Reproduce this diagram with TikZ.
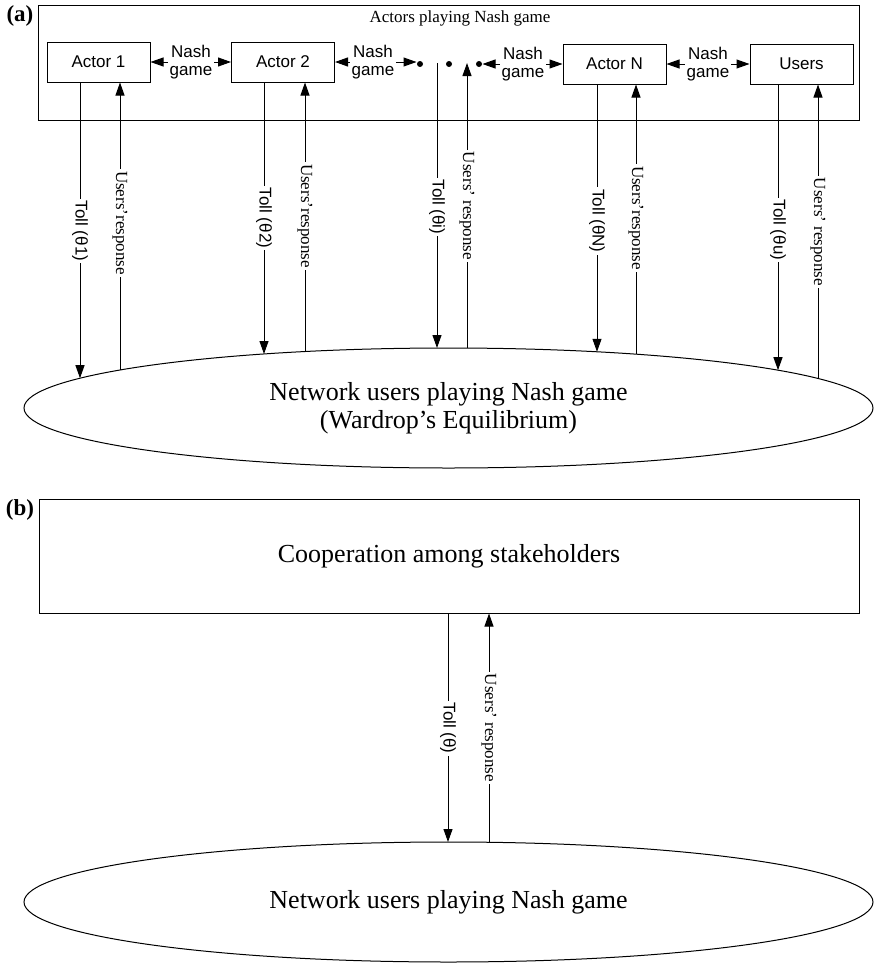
\documentclass[tikz,border=0pt]{standalone}
\usepackage{fontspec}
\setmainfont{Liberation Serif}
\setsansfont{Liberation Sans}
\usetikzlibrary{shapes.geometric,arrows.meta}

\begin{document}
\begin{tikzpicture}[x=1pt,y=-1pt,
  line width=1pt,
  arr/.style={-{Triangle[length=13pt,width=9pt]}},
  actorbox/.style={draw, minimum width=103pt, minimum height=40pt, inner sep=0pt,
    font=\sffamily\fontsize{17}{19}\selectfont},
  gamelbl/.style={align=center, inner sep=1.5pt,
    font=\sffamily\fontsize{17}{18.5}\selectfont},
  tolllbl/.style={rotate=-90, fill=white, inner xsep=2pt, inner ysep=0pt,
    font=\sffamily\fontsize{17}{19}\selectfont},
  resplbl/.style={rotate=-90, fill=white, inner xsep=2pt, inner ysep=0pt,
    font=\fontsize{17}{19}\selectfont},
  netwk/.style={draw, ellipse, minimum width=849pt, minimum height=120pt,
    inner sep=0pt, align=center, font=\fontsize{26}{28}\selectfont},
  dotmark/.style={circle, fill, inner sep=0pt, minimum size=6pt},
  panel/.style={inner sep=0pt, font=\bfseries\fontsize{23}{25}\selectfont}
]
\useasboundingbox (0,0) rectangle (873,964);

% ---------- (a) non-cooperative setting ----------
\node[panel] (pa) at (20,16) {(a)};
\node[draw, anchor=north west, minimum width=821pt, minimum height=115pt,
  inner sep=0pt] (actors) at (38,5) {};
\node[inner sep=0pt, font=\fontsize{17}{19}\selectfont] (title) at (460,18)
  {Actors playing Nash game};

\node[actorbox] (a1) at (98.5,62) {Actor 1};
\node[actorbox] (a2) at (283,62) {Actor 2};
\node[actorbox] (aN) at (614.5,64) {Actor N};
\node[actorbox] (us) at (801.5,64) {Users};

\node[dotmark] (d1) at (420,64) {};
\node[dotmark] (d2) at (449,64) {};
\node[dotmark] (d3) at (479,64) {};

\node[gamelbl] (g12) at (191,62) {Nash\\game};
\node[gamelbl] (g2d) at (373,62) {Nash\\game};
\node[gamelbl] (gdN) at (523,64) {Nash\\game};
\node[gamelbl] (gNu) at (708,64) {Nash\\game};

\draw[arr] (g12.west) -- (g12.west -| a1.east);
\draw[arr] (g12.east) -- (g12.east -| a2.west);
\draw[arr] (g2d.west) -- (g2d.west -| a2.east);
\draw[arr] (g2d.east) -- (g2d.east -| d1.west);
\draw[arr] (gdN.west) -- (gdN.west -| d3.east);
\draw[arr] (gdN.east) -- (gdN.east -| aN.west);
\draw[arr] (gNu.west) -- (gNu.west -| aN.east);
\draw[arr] (gNu.east) -- (gNu.east -| us.west);

\node[netwk] (net) at (448.5,408)
  {Network users playing Nash game\\(Wardrop’s Equilibrium)};

% points where the vertical links meet the ellipse outline
\coordinate (t1) at (80,378.2);
\coordinate (r1) at (120,370);
\coordinate (t2) at (264,354);
\coordinate (r2) at (305,351.5);
\coordinate (ti) at (437,348);
\coordinate (ri) at (467,348.1);
\coordinate (tN) at (597,351.8);
\coordinate (rN) at (636,354.2);
\coordinate (tu) at (778,370.2);
\coordinate (ru) at (818,378.5);
% free ends inside the actors frame for the i-th actor
\coordinate (si) at (437,63);
\coordinate (ei) at (467,63);

\draw[arr] (t1 |- a1.south) -- (t1);
\draw[arr] (r1) -- (r1 |- a1.south);
\draw[arr] (t2 |- a2.south) -- (t2);
\draw[arr] (r2) -- (r2 |- a2.south);
\draw[arr] (si) -- (ti);
\draw[arr] (ri) -- (ei);
\draw[arr] (tN |- aN.south) -- (tN);
\draw[arr] (rN) -- (rN |- aN.south);
\draw[arr] (tu |- us.south) -- (tu);
\draw[arr] (ru) -- (ru |- us.south);

\node[tolllbl] (lt1) at (80,231) {Toll (θ1)};
\node[resplbl] (lr1) at (120,223) {Users’response};
\node[tolllbl] (lt2) at (264,218) {Toll (θ2)};
\node[resplbl] (lr2) at (305,216) {Users’response};
\node[tolllbl] (lti) at (437,207) {Toll (θi)};
\node[resplbl] (lri) at (467,206) {Users’ response};
\node[tolllbl] (ltN) at (597,221) {Toll (θN)};
\node[resplbl] (lrN) at (636,218) {Users’response};
\node[tolllbl] (ltu) at (778,230) {Toll (θu)};
\node[resplbl] (lru) at (818,232) {Users’ response};

% ---------- (b) cooperative setting ----------
\node[panel] (pb) at (20,510) {(b)};
\node[draw, minimum width=820pt, minimum height=114pt, inner sep=0pt,
  font=\fontsize{26}{28}\selectfont] (coop) at (449,556)
  {Cooperation among stakeholders};
\node[netwk] (net2) at (448.5,902) {Network users playing Nash game};

\coordinate (tb) at (448,842);
\coordinate (rb) at (489,842.3);
\draw[arr] (tb |- coop.south) -- (tb);
\draw[arr] (rb) -- (rb |- coop.south);

\node[tolllbl] (ltb) at (448,728) {Toll (θ)};
\node[resplbl] (lrb) at (489,728) {Users’ response};
\end{tikzpicture}
\end{document}
